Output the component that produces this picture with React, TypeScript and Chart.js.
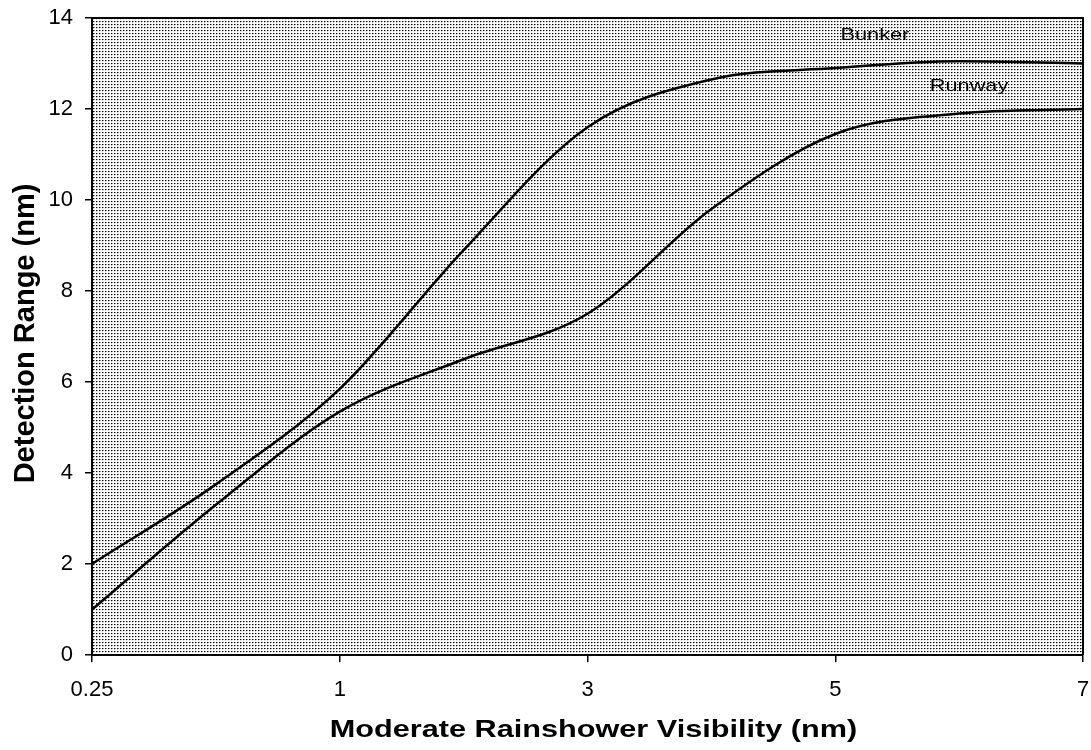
import React, { useEffect, useRef } from 'react';
import { Chart, registerables } from 'chart.js';

Chart.register(...registerables);

// ---- data ----
const categories = ['0.25', '0.5', '1', '2', '3', '4', '5', '6', '7'];
const shownCategories = ['0.25', '1', '3', '5', '7'];
const bunker = [2.0, 3.75, 5.85, 8.9, 11.6, 12.65, 12.9, 13.05, 13.0];
const runway = [1.0, 3.3, 5.35, 6.5, 7.5, 9.8, 11.45, 11.9, 12.0];
const seriesNames = ['Bunker', 'Runway'];
const yMin = 0;
const yMax = 14;
const yStep = 2;
const xTitle = 'Moderate Rainshower Visibility (nm)';
const yTitle = 'Detection Range (nm)';

// in-plot series labels, placed in data coordinates (category index, value)
const seriesLabelIndex = [6.32, 7.08];
const seriesLabelValue = [13.63, 12.49];

const FONT = "'Liberation Sans', Arial, Helvetica, sans-serif";

function makePattern(ctx: CanvasRenderingContext2D) {
  const c = document.createElement('canvas');
  c.width = 3;
  c.height = 3;
  const p = c.getContext('2d') as CanvasRenderingContext2D;
  p.fillStyle = '#ffffff';
  p.fillRect(0, 0, 3, 3);
  p.fillStyle = '#000000';
  p.fillRect(0, 0, 1, 1);
  p.fillStyle = '#909090';
  p.fillRect(1, 0, 1, 1);
  p.fillStyle = '#d0d0d0';
  p.fillRect(0, 1, 1, 1);
  return ctx.createPattern(c, 'repeat');
}

const decorPlugin = {
  id: 'decor',
  beforeDraw(chart: any) {
    const { ctx, chartArea } = chart;
    const pat = makePattern(ctx);
    ctx.save();
    ctx.fillStyle = '#ffffff';
    ctx.fillRect(0, 0, chart.width, chart.height);
    if (pat) ctx.fillStyle = pat;
    ctx.fillRect(chartArea.left, chartArea.top, chartArea.right - chartArea.left, chartArea.bottom - chartArea.top);
    ctx.restore();
  },
  afterDatasetsDraw(chart: any) {
    const { ctx, chartArea } = chart;
    const xs = chart.scales.x;
    const ys = chart.scales.y;
    ctx.save();
    ctx.strokeStyle = '#000';
    ctx.lineWidth = 2;
    ctx.beginPath();
    ctx.moveTo(chartArea.left, chartArea.top);
    ctx.lineTo(chartArea.right, chartArea.top);
    ctx.lineTo(chartArea.right, chartArea.bottom);
    ctx.stroke();
    ctx.fillStyle = '#000';
    ctx.font = `17px ${FONT}`;
    ctx.textAlign = 'center';
    ctx.textBaseline = 'middle';
    seriesNames.forEach((name, i) => {
      const x = xs.getPixelForValue(seriesLabelIndex[i]);
      const y = ys.getPixelForValue(seriesLabelValue[i]);
      ctx.save();
      ctx.translate(x, y);
      ctx.scale(1.28, 1);
      ctx.fillText(name, 0, 0);
      ctx.restore();
    });
    ctx.restore();
  },
  afterDraw(chart: any) {
    const { ctx, chartArea } = chart;
    ctx.save();
    ctx.fillStyle = '#000';
    ctx.font = `bold 23px ${FONT}`;
    ctx.textAlign = 'center';
    ctx.textBaseline = 'alphabetic';
    ctx.save();
    ctx.translate((chartArea.left + chartArea.right) / 2 + 6, 737);
    ctx.scale(1.333, 1);
    ctx.fillText(xTitle, 0, 0);
    ctx.restore();
    ctx.font = `bold 29px ${FONT}`;
    ctx.save();
    ctx.translate(34, (chartArea.top + chartArea.bottom) / 2 - 3);
    ctx.rotate(-Math.PI / 2);
    ctx.fillText(yTitle, 0, 0);
    ctx.restore();
    ctx.restore();
  },
};

export default function App() {
  const canvasRef = useRef<HTMLCanvasElement | null>(null);

  useEffect(() => {
    const canvas = canvasRef.current;
    if (!canvas) return;
    const chart = new Chart(canvas, {
      type: 'line',
      data: {
        labels: categories,
        datasets: [
          {
            label: seriesNames[0],
            data: bunker,
            borderColor: '#000',
            borderWidth: 2.5,
            pointRadius: 0,
            cubicInterpolationMode: 'monotone',
            fill: false,
          },
          {
            label: seriesNames[1],
            data: runway,
            borderColor: '#000',
            borderWidth: 2.5,
            pointRadius: 0,
            cubicInterpolationMode: 'monotone',
            fill: false,
          },
        ],
      },
      options: {
        responsive: false,
        animation: false,
        devicePixelRatio: 1,
        layout: { padding: { top: 18, right: 8, left: 0, bottom: 0 } },
        plugins: {
          legend: { display: false },
          tooltip: { enabled: false },
          title: { display: false },
        },
        scales: {
          x: {
            type: 'category',
            offset: false,
            afterFit: (s: any) => {
              s.height = 95;
              s.paddingLeft = 0;
              s.paddingRight = 0;
            },
            grid: {
              drawOnChartArea: false,
              tickLength: 7,
              lineWidth: 1.5,
              color: (c: any) => (shownCategories.includes(categories[c.index]) ? '#000' : 'rgba(0,0,0,0)'),
              tickColor: (c: any) => (shownCategories.includes(categories[c.index]) ? '#000' : 'rgba(0,0,0,0)'),
            },
            border: { display: true, color: '#000', width: 2 },
            ticks: {
              autoSkip: false,
              maxRotation: 0,
              padding: 15,
              color: '#000',
              font: { family: FONT, size: 22 },
              callback: (_v: any, i: number) => (shownCategories.includes(categories[i]) ? categories[i] : ''),
            },
          },
          y: {
            min: yMin,
            max: yMax,
            afterFit: (s: any) => {
              s.width = 92;
              s.paddingTop = 0;
              s.paddingBottom = 0;
            },
            grid: {
              drawOnChartArea: false,
              tickLength: 7,
              lineWidth: 1.5,
              color: '#000',
            },
            border: { display: true, color: '#000', width: 2 },
            ticks: {
              stepSize: yStep,
              padding: 12,
              color: '#000',
              font: { family: FONT, size: 22 },
            },
          },
        },
      },
      plugins: [decorPlugin],
    });
    return () => chart.destroy();
  }, []);

  return (
    <div style={{ position: 'absolute', left: 0, top: 0, width: 1091, height: 750, background: '#fff' }}>
      <canvas ref={canvasRef} width={1091} height={750} style={{ display: 'block' }} />
    </div>
  );
}
